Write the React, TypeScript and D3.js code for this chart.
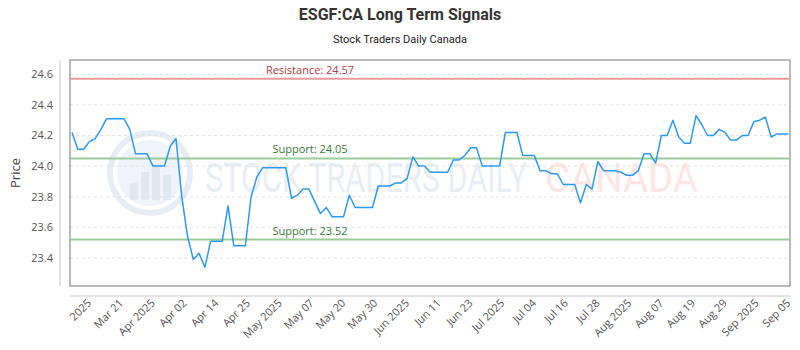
import React, { useEffect, useRef } from 'react';
import * as d3 from 'd3';

// daily closes (oldest first)
const prices: number[] = [
  24.22, 24.11, 24.11, 24.16, 24.18, 24.24, 24.31, 24.31, 24.31, 24.31,
  24.24, 24.08, 24.08, 24.08, 24.00, 24.00, 24.00, 24.13, 24.18, 23.80,
  23.54, 23.39, 23.43, 23.34, 23.51, 23.51, 23.51, 23.74, 23.48, 23.48,
  23.48, 23.80, 23.93, 23.99, 23.99, 23.99, 23.99, 23.99, 23.79, 23.81,
  23.85, 23.85, 23.77, 23.69, 23.73, 23.67, 23.67, 23.67, 23.81, 23.73,
  23.73, 23.73, 23.73, 23.87, 23.87, 23.87, 23.89, 23.89, 23.92, 24.06,
  24.00, 24.00, 23.96, 23.96, 23.96, 23.96, 24.04, 24.04, 24.07, 24.12,
  24.12, 24.00, 24.00, 24.00, 24.00, 24.22, 24.22, 24.22, 24.07, 24.07,
  24.07, 23.97, 23.97, 23.95, 23.95, 23.88, 23.88, 23.88, 23.76, 23.88,
  23.85, 24.03, 23.97, 23.97, 23.97, 23.96, 23.94, 23.94, 23.97, 24.08,
  24.08, 24.02, 24.20, 24.20, 24.30, 24.19, 24.15, 24.15, 24.33, 24.27,
  24.20, 24.20, 24.24, 24.22, 24.17, 24.17, 24.20, 24.20, 24.29, 24.30,
  24.32, 24.19, 24.21, 24.21, 24.21,
];

const tickLabels: string[] = [
  '2025', 'Mar 21', 'Apr 2025', 'Apr 02', 'Apr 14', 'Apr 25', 'May 2025', 'May 07',
  'May 20', 'May 30', 'Jun 2025', 'Jun 11', 'Jun 23', 'Jul 2025', 'Jul 04', 'Jul 16',
  'Jul 28', 'Aug 2025', 'Aug 07', 'Aug 19', 'Aug 29', 'Sep 2025', 'Sep 05',
];
const tickStart = 3;     // index of the first label
const tickEvery = 5.5;   // points between labels

const yTicks = [23.4, 23.6, 23.8, 24.0, 24.2, 24.4, 24.6];

const resistance = [24.57];
const supports = [24.05, 23.52];

export default function App() {
  const svgRef = useRef<SVGSVGElement>(null);

  useEffect(() => {
    document.body.style.margin = '0';
    if (!svgRef.current) return;

    const W = 800;
    const plot = { left: 70, right: 790, top: 60, bottom: 286 };

    const svg = d3.select(svgRef.current);
    svg.selectAll('*').remove();

    const lo = d3.min([...prices, ...supports]) as number;
    const hi = d3.max([...prices, ...resistance]) as number;
    const pad = (hi - lo) * 0.1;

    const x = d3.scaleLinear()
      .domain([0, prices.length - 1])
      .range([plot.left + 2, plot.right - 1.5]);

    const y = d3.scaleLinear()
      .domain([lo - pad, hi + pad])
      .range([plot.bottom, plot.top]);

    // Title
    svg.append('text')
      .attr('x', W / 2).attr('y', 20)
      .attr('text-anchor', 'middle')
      .attr('font-family', 'Roboto, sans-serif')
      .attr('font-weight', 'bold')
      .attr('font-size', 16)
      .attr('fill', '#333')
      .text('ESGF:CA Long Term Signals');

    svg.append('text')
      .attr('x', W / 2).attr('y', 43)
      .attr('text-anchor', 'middle')
      .attr('font-family', 'Roboto, sans-serif')
      .attr('font-size', 11)
      .attr('fill', '#222')
      .text('Stock Traders Daily Canada');

    // Watermark
    const wm = svg.append('g');
    wm.append('circle')
      .attr('cx', 150).attr('cy', 173).attr('r', 40)
      .attr('fill', 'none').attr('stroke', '#e8edf5').attr('stroke-width', 6);
    wm.append('circle')
      .attr('cx', 150).attr('cy', 173).attr('r', 33)
      .attr('fill', '#f0f3f9');
    [[-20, 12], [-9, 20], [2, 26], [13, 18]].forEach(([dx, h]) => {
      wm.append('rect')
        .attr('x', 150 + dx).attr('y', 200 - h * 1.4)
        .attr('width', 8).attr('height', h * 1.4)
        .attr('fill', '#e2e8f1');
    });
    // squeeze the wordmark to the reference width
    const mark = (txt: string, x0: number, width: number, fill: string) => {
      const t = wm.append('text')
        .attr('font-family', 'Roboto, sans-serif')
        .attr('font-size', 40)
        .attr('fill', fill)
        .text(txt);
      const len = (t.node() as SVGTextElement).getComputedTextLength() || width;
      t.attr('transform', `translate(${x0},192) scale(${width / len},1)`);
    };
    mark('STOCK TRADERS DAILY', 205, 322, '#e9eef5');
    mark('CANADA', 545, 153, '#fde6e6');

    // Grid
    svg.append('g')
      .selectAll('line')
      .data(yTicks)
      .join('line')
      .attr('x1', plot.left).attr('x2', plot.right)
      .attr('y1', d => y(d)).attr('y2', d => y(d))
      .attr('stroke', '#e2e2e2')
      .attr('stroke-dasharray', '3,3');

    // Plot frame
    svg.append('rect')
      .attr('x', plot.left).attr('y', plot.top)
      .attr('width', plot.right - plot.left)
      .attr('height', plot.bottom - plot.top)
      .attr('fill', 'none')
      .attr('stroke', '#777')
      .attr('stroke-width', 1);

    // Y axis
    svg.append('line')
      .attr('x1', 60).attr('x2', 60)
      .attr('y1', plot.top).attr('y2', plot.bottom)
      .attr('stroke', '#c8c8c8');

    svg.append('g')
      .selectAll('text')
      .data(yTicks)
      .join('text')
      .attr('x', 53).attr('y', d => y(d))
      .attr('dy', '0.35em')
      .attr('text-anchor', 'end')
      .attr('font-family', '"Open Sans", sans-serif')
      .attr('font-size', 11)
      .attr('fill', '#555')
      .text(d => d3.format('.1f')(d));

    svg.append('text')
      .attr('transform', `translate(20,${(plot.top + plot.bottom) / 2}) rotate(-90)`)
      .attr('text-anchor', 'middle')
      .attr('font-family', '"Open Sans", sans-serif')
      .attr('font-size', 13)
      .attr('fill', '#444')
      .text('Price');

    // X axis
    svg.append('line')
      .attr('x1', plot.left).attr('x2', plot.right)
      .attr('y1', 296).attr('y2', 296)
      .attr('stroke', '#c8c8c8');

    svg.append('g')
      .selectAll('text')
      .data(tickLabels)
      .join('text')
      .attr('transform', (_, i) => `translate(${x(tickStart + i * tickEvery)},301) rotate(-45)`)
      .attr('text-anchor', 'end')
      .attr('dy', '0.35em')
      .attr('font-family', '"Open Sans", sans-serif')
      .attr('font-size', 11)
      .attr('fill', '#555')
      .text(d => d);

    // Resistance / support lines
    const levels = [
      ...resistance.map(v => ({ v, label: `Resistance: ${v.toFixed(2)}`, line: '#ee9a9a', text: '#b83a3a' })),
      ...supports.map(v => ({ v, label: `Support: ${v.toFixed(2)}`, line: '#99cc99', text: '#3a7a3a' })),
    ];

    const lv = svg.append('g');
    lv.selectAll('line')
      .data(levels)
      .join('line')
      .attr('x1', plot.left).attr('x2', plot.right)
      .attr('y1', d => y(d.v)).attr('y2', d => y(d.v))
      .attr('stroke', d => d.line)
      .attr('stroke-width', 2);

    lv.selectAll('text')
      .data(levels)
      .join('text')
      .attr('x', 310).attr('y', d => y(d.v) - 5)
      .attr('text-anchor', 'middle')
      .attr('font-family', '"Open Sans", sans-serif')
      .attr('font-size', 11)
      .attr('fill', d => d.text)
      .text(d => d.label);

    // Price line
    const line = d3.line<number>()
      .x((_, i) => x(i))
      .y(d => y(d));

    svg.append('path')
      .datum(prices)
      .attr('fill', 'none')
      .attr('stroke', '#2b9af3')
      .attr('stroke-width', 1.5)
      .attr('stroke-linejoin', 'round')
      .attr('d', line);
  }, []);

  return <svg ref={svgRef} width={800} height={350} style={{ display: 'block' }} />;
}
